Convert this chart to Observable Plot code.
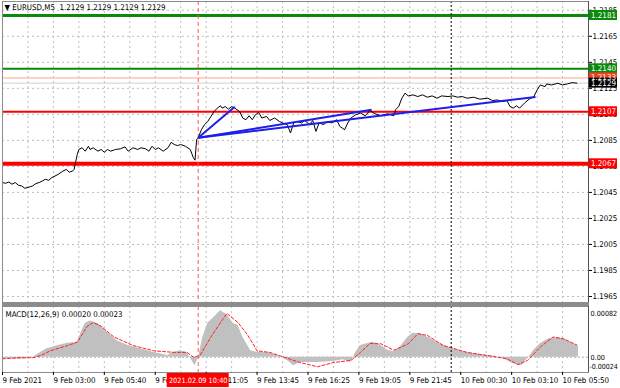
<!DOCTYPE html>
<html><head><meta charset="utf-8">
<script src="https://cdn.jsdelivr.net/npm/d3@7"></script>
<script src="https://cdn.jsdelivr.net/npm/@observablehq/plot@0.6"></script>
<style>
html,body{margin:0;padding:0;background:#fff;}
#wrap{position:relative;width:620px;height:388px;overflow:hidden;background:#fff;}
#wrap svg{position:absolute;left:0;}
#sep{position:absolute;left:2px;width:587px;top:303px;height:3px;background:#8c8c8c;}
</style></head><body><div id="wrap"><div id="sep"></div></div>
<script>
// ---------- data ----------
const titleText = "▼ EURUSD,M5  1.2129 1.2129 1.2129 1.2129";
const macdTitle = "MACD(12,26,9) 0.00020 0.00023";
const priceTicks = [1.2185, 1.2165, 1.2145, 1.2125, 1.2105, 1.2085, 1.2065, 1.2045, 1.2025, 1.2005, 1.1985, 1.1965];
const timeLabels = ["9 Feb 2021","9 Feb 03:00","9 Feb 05:40","9 Feb 08:20","9 Feb 11:05","9 Feb 13:45","9 Feb 16:25","9 Feb 19:05","9 Feb 21:45","10 Feb 00:30","10 Feb 03:10","10 Feb 05:50"];
const timeLabelBars = [0,32,64,96,128,160,192,224,256,288,320,352];
const gridBars = [16,32,48,64,80,96,112,128,144,160,176,192,208,224,240,256,272,288,304,320,336,352];
const eventBar = 123;
const eventLabel = "2021.02.09 10:40";
const markerBar = 282;
const levelGreen = [1.2181, 1.2140];
const levelRed = [1.2107, 1.2067];
const bid = 1.2129;
const ask = 1.2133;
const trendStart = {bar: 123, price: 1.20870};
const trendEnds = [{bar: 146, price: 1.21108}, {bar: 232, price: 1.21085}, {bar: 335, price: 1.21184}];

const priceBars = [
 0,2,4,6,8,10,12,14,17,19,
 21,23,25,27,29,31,33,35,38,40,
 42,44,45,47,48,50,52,54,55,57,
 60,62,64,66,68,71,74,77,79,82,
 85,87,90,92,94,96,98,101,104,106,
 108,110,112,115,118,120,121,122,123,125,
 127,129,131,133,135,137,138,140,142,144,
 146,149,151,153,155,157,159,161,163,166,
 168,171,174,176,179,181,183,185,188,190,
 193,195,197,199,202,204,207,210,212,215,
 217,219,222,225,228,231,234,238,242,246,
 247,249,251,253,255,258,261,264,267,270,
 273,276,280,283,286,289,292,296,300,305,
 308,311,314,317,319,321,323,325,328,331,
 334,336,338,341,342,345,349,352,355,358,
 361];
const priceClose = [
 1.20526,1.20520,1.20530,1.20513,1.20526,1.20505,1.20500,1.20482,1.20492,1.20500,
 1.20518,1.20526,1.20538,1.20551,1.20543,1.20564,1.20576,1.20589,1.20614,1.20627,
 1.20606,1.20614,1.20627,1.20742,1.20780,1.20793,1.20767,1.20805,1.20780,1.20793,
 1.20767,1.20780,1.20759,1.20780,1.20767,1.20780,1.20785,1.20800,1.20767,1.20793,
 1.20780,1.20793,1.20785,1.20767,1.20805,1.20780,1.20793,1.20767,1.20793,1.20835,
 1.20818,1.20810,1.20818,1.20805,1.20780,1.20716,1.20698,1.20856,1.20869,1.20932,
 1.20971,1.20996,1.21034,1.21072,1.21098,1.21116,1.21098,1.21110,1.21090,1.21110,
 1.21098,1.21072,1.21022,1.21009,1.21039,1.21009,1.21047,1.21064,1.21022,1.21034,
 1.21003,1.21022,1.20996,1.20984,1.20971,1.20907,1.20984,1.20996,1.20984,1.21003,
 1.20971,1.21003,1.20919,1.20984,1.20971,1.20996,1.20984,1.21009,1.20958,1.20932,
 1.20984,1.21022,1.21047,1.21060,1.21039,1.21080,1.21055,1.21039,1.21055,1.21039,
 1.21085,1.21110,1.21174,1.21213,1.21192,1.21200,1.21187,1.21200,1.21182,1.21192,
 1.21174,1.21192,1.21187,1.21192,1.21182,1.21187,1.21174,1.21182,1.21167,1.21174,
 1.21156,1.21161,1.21148,1.21156,1.21110,1.21098,1.21116,1.21098,1.21136,1.21167,
 1.21187,1.21238,1.21276,1.21263,1.21284,1.21276,1.21289,1.21276,1.21284,1.21294,
 1.21290];

const histBars = [
 0,5,11,18,19,24,28,35,41,47,
 50,52,55,57,60,66,72,79,87,95,
 104,107,112,116,119,121,123,126,129,133,
 137,141,145,148,151,156,160,167,173,179,
 183,187,198,208,214,219,222,225,229,233,
 238,242,246,250,255,258,263,267,275,283,
 292,300,309,315,321,326,330,334,338,343,
 349,353,357,362];
const histValues = [
 -0.00003,-0.00003,-0.00004,-0.00002,0,0.00009,0.00016,0.00022,0.00026,0.00028,
 0.00050,0.00063,0.00068,0.00066,0.00063,0.00047,0.00031,0.00022,0.00016,0.00009,
 0.00003,0.00009,0.00012,0.00009,-0.00006,-0.00016,-0.00003,0.00038,0.00063,0.00075,
 0.00087,0.00080,0.00063,0.00060,0.00038,0.00012,0.00009,0.00009,0.00003,-0.00006,
 -0.00016,-0.00010,-0.00010,-0.00008,-0.00005,-0.00010,0.00009,0.00022,0.00025,0.00028,
 0.00022,0.00013,0.00010,0.00019,0.00038,0.00045,0.00044,0.00038,0.00025,0.00016,
 0.00009,0.00005,0.00002,-0.00003,-0.00012,-0.00016,-0.00003,0.00013,0.00025,0.00034,
 0.00037,0.00034,0.00028,0.00020];

const signalBars = [
 0,11,19,24,30,41,47,53,57,62,
 70,82,95,108,116,120,124,131,137,141,
 148,154,160,168,177,187,198,208,219,225,
 231,238,246,255,261,267,277,292,305,317,
 324,330,338,346,353,361];
const signalValues = [
 -0.00003,-0.00001,-0.00001,0.00003,0.00012,0.00022,0.00028,0.00057,0.00065,0.00058,
 0.00038,0.00022,0.00012,0.00009,0.00009,0.00000,0.00003,0.00038,0.00065,0.00082,
 0.00065,0.00042,0.00012,0.00009,0.00000,-0.00010,-0.00018,-0.00010,-0.00006,0.00009,
 0.00026,0.00025,0.00013,0.00025,0.00044,0.00041,0.00022,0.00009,0.00003,-0.00003,
 -0.00014,-0.00006,0.00019,0.00038,0.00034,0.00023];

const macdTicks = [0.00082, 0, -0.00024];
const macdTickLabels = ["0.00082", "0.00", "-0.00024"];

// ---------- build ----------
const xMax = 368.3;
const plotStyle = {fontFamily: "'DejaVu Sans Condensed', 'Liberation Sans', Arial, sans-serif", fontSize: "7.9px", color: "#000", background: "transparent", overflow: "visible"};
const gridStyle = {stroke: "#bdbdbd", strokeDasharray: "2,3"};

const priceTable = priceBars.map((b, i) => ({bar: b, close: priceClose[i]}));
const histTable = histBars.map((b, i) => ({bar: b, v: histValues[i]}));
const sigTable = signalBars.map((b, i) => ({bar: b, v: signalValues[i]}));
const trendTable = trendEnds.map(e => ({x1: trendStart.bar, y1: trendStart.price, x2: e.bar, y2: e.price}));
const boxTable = [
  {v: levelGreen[0], fill: "#0a8a0a"},
  {v: levelGreen[1], fill: "#0a8a0a"},
  {v: levelRed[0], fill: "#ff0000"},
  {v: levelRed[1], fill: "#ff0000"},
  {v: ask, fill: "#f0401e"},
  {v: bid, fill: "#000000"}
].map(d => ({...d, label: d.v.toFixed(4)}));

const p1 = Plot.plot({
  width: 620, height: 303,
  marginLeft: 2, marginRight: 32, marginTop: 1, marginBottom: 1,
  x: {domain: [0, xMax], axis: null, label: null},
  y: {domain: [1.196038, 1.219176], axis: null, label: null},
  color: {type: "identity"},
  style: plotStyle,
  marks: [
    Plot.ruleY(priceTicks, gridStyle),
    Plot.ruleX(gridBars, gridStyle),
    Plot.ruleY([ask], {stroke: "#ffa595"}),
    Plot.ruleY([bid], {stroke: "#cfcfcf"}),
    Plot.ruleY([levelGreen[0]], {stroke: "#0a8a0a", strokeWidth: 3}),
    Plot.ruleY([levelGreen[1]], {stroke: "#0a8a0a", strokeWidth: 2}),
    Plot.ruleY([levelRed[0]], {stroke: "#ff0000", strokeWidth: 2}),
    Plot.ruleY([levelRed[1]], {stroke: "#ff0000", strokeWidth: 4}),
    Plot.ruleX([eventBar], {stroke: "#ff5a5a", strokeDasharray: "4,3"}),
    Plot.ruleX([markerBar], {stroke: "#000", strokeDasharray: "2,2"}),
    Plot.line(priceTable, {x: "bar", y: "close", stroke: "#000", strokeWidth: 1}),
    Plot.link(trendTable, {x1: "x1", y1: "y1", x2: "x2", y2: "y2", stroke: "#1e1eea", strokeWidth: 2}),
    Plot.frame({stroke: "#8c8c8c"}),
    Plot.ruleX([xMax], {stroke: "#505050"}),
    Plot.axisY(priceTicks, {anchor: "right", label: null, tickSize: 3, tickPadding: 1, tickFormat: d => d.toFixed(4)}),
    Plot.rect(boxTable, {x1: () => xMax, x2: () => xMax, y1: "v", y2: "v", fill: "fill", insetLeft: 1, insetRight: -29, insetTop: -5, insetBottom: -5}),
    Plot.text(boxTable, {x: () => xMax, y: "v", text: "label", fill: "#fff", dx: 15}),
    Plot.text([titleText], {frameAnchor: "top-left", text: d => d, dx: 2, dy: 3, lineAnchor: "top", textAnchor: "start"})
  ]
});
p1.style.top = "0px";

const p2 = Plot.plot({
  width: 620, height: 82,
  marginLeft: 2, marginRight: 32, marginTop: 0, marginBottom: 16,
  x: {domain: [0, xMax], axis: null, label: null},
  y: {domain: [-0.000287, 0.000951], axis: null, label: null},
  style: plotStyle,
  marks: [
    Plot.ruleX(gridBars, gridStyle),
    Plot.ruleY([0], {stroke: "#a8a8a8", strokeDasharray: "2,2"}),
    Plot.areaY(histTable, {x: "bar", y: "v", fill: "#c0c0c0"}),
    Plot.line(sigTable, {x: "bar", y: "v", stroke: "#ff2020", strokeDasharray: "3,2", strokeWidth: 1}),
    Plot.ruleX([eventBar], {stroke: "#ff5a5a", strokeDasharray: "4,3"}),
    Plot.ruleX([markerBar], {stroke: "#000", strokeDasharray: "2,2"}),
    Plot.frame({stroke: "#8c8c8c"}),
    Plot.ruleX([xMax], {stroke: "#505050"}),
    Plot.text(macdTicks.slice(0, 2), {x: () => xMax, y: d => d, text: d => macdTickLabels[macdTicks.indexOf(d)], dx: 2, textAnchor: "start", fontSize: 7.2}),
    Plot.text([macdTicks[2]], {x: () => xMax, y: d => d, text: () => macdTickLabels[2], dx: 1, dy: -3, textAnchor: "start", fontSize: 7}),
    Plot.axisX(timeLabelBars, {anchor: "bottom", label: null, tickSize: 3, tickPadding: 1.5, textAnchor: "start", tickFormat: d => timeLabels[timeLabelBars.indexOf(d)]}),
    Plot.rect([eventBar], {x1: d => d, x2: d => d, y1: () => -0.000287, y2: () => -0.000287, fill: "#ff0000", insetLeft: -31, insetRight: -31, insetTop: 1, insetBottom: -15}),
    Plot.text([eventLabel], {x: () => eventBar, frameAnchor: "bottom", text: d => d, fill: "#fff", dy: 8, lineAnchor: "middle", fontSize: 7.3}),
    Plot.text([macdTitle], {frameAnchor: "top-left", text: d => d, dx: 3, dy: 5, lineAnchor: "top", textAnchor: "start"})
  ]
});
p2.style.top = "306px";

const wrap = document.getElementById("wrap");
wrap.appendChild(p1);
wrap.appendChild(p2);
</script></body></html>
